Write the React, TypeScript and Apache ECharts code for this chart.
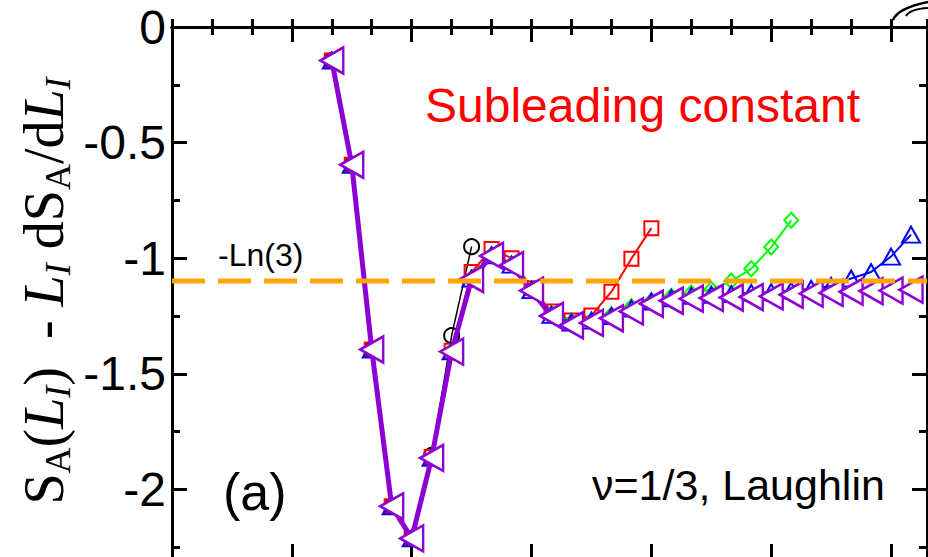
import React, { useEffect, useRef } from 'react';
import * as echarts from 'echarts';

// ---- data (x = L1 index, y = S_A(L1) - L1 dS_A/dL1) ----
const xBlack = [8, 9, 10, 11, 12, 13, 14, 15];
const yBlack = [-0.145, -0.596, -1.395, -2.073, -2.212, -1.853, -1.335, -0.95];

const xRed = [8, 9, 10, 11, 12, 13, 14, 15, 16, 17, 18, 19, 20, 21, 22, 23, 24];
const yRed = [-0.145, -0.596, -1.395, -2.073, -2.212, -1.86, -1.4, -1.06, -0.96, -1.0, -1.13, -1.23, -1.27, -1.248, -1.145, -1.002, -0.87];

const xGreen = [8, 9, 10, 11, 12, 13, 14, 15, 16, 17, 18, 19, 20, 21, 22, 23, 24, 25, 26, 27, 28, 29, 30, 31];
const yGreen = [-0.145, -0.596, -1.395, -2.073, -2.212, -1.862, -1.402, -1.085, -0.985, -1.025, -1.135, -1.24, -1.275, -1.27, -1.245, -1.21, -1.185, -1.165, -1.15, -1.135, -1.099, -1.046, -0.952, -0.836];

const xBlue = [8, 9, 10, 11, 12, 13, 14, 15, 16, 17, 18, 19, 20, 21, 22, 23, 24, 25, 26, 27, 28, 29, 30, 31, 32, 33, 34, 35, 36, 37];
const yBlue = [-0.145, -0.596, -1.395, -2.073, -2.212, -1.863, -1.403, -1.088, -0.988, -1.028, -1.138, -1.245, -1.278, -1.27, -1.25, -1.218, -1.187, -1.173, -1.163, -1.158, -1.155, -1.15, -1.147, -1.14, -1.133, -1.12, -1.088, -1.06, -0.993, -0.898];

const xPurple = [8, 9, 10, 11, 12, 13, 14, 15, 16, 17, 18, 19, 20, 21, 22, 23, 24, 25, 26, 27, 28, 29, 30, 31, 32, 33, 34, 35, 36, 37];
const yPurple = [-0.145, -0.596, -1.395, -2.073, -2.212, -1.864, -1.404, -1.09, -0.99, -1.03, -1.14, -1.25, -1.29, -1.28, -1.26, -1.23, -1.197, -1.184, -1.175, -1.172, -1.17, -1.168, -1.165, -1.158, -1.153, -1.15, -1.145, -1.142, -1.14, -1.136];

const yTickLabels = ['0', '-0.5', '-1', '-1.5', '-2'];

const LN3 = -Math.log(3);
const X_MIN = 0;
const X_MAX = 37.8;
const Y_MIN = -2.5;
const Y_MAX = 0;

const pairs = (xs: number[], ys: number[]) => xs.map((x, i) => [x, ys[i]]);

const SANS = 'Liberation Sans, Arial, sans-serif';
const SERIF = 'Liberation Serif, Times New Roman, serif';

export default function App() {
  const ref = useRef<HTMLDivElement>(null);
  useEffect(() => {
    const chart = echarts.init(ref.current!, null, { renderer: 'svg' });
    const axisLine = { show: true, lineStyle: { color: '#000', width: 3 } };
    const majorTick = { show: true, inside: true, length: 15, lineStyle: { color: '#000', width: 3 } };
    const minorTickX = { show: true, inside: true, length: 8, lineStyle: { color: '#000', width: 3 } };
    const xBase = {
      type: 'value',
      min: X_MIN,
      max: X_MAX,
      axisLabel: { show: false },
      splitLine: { show: false },
      axisLine,
    };
    const yBase = {
      type: 'value',
      min: Y_MIN,
      max: Y_MAX,
      interval: 0.5,
      splitLine: { show: false },
      axisLine,
      axisTick: majorTick,
      minorTick: { show: true, splitNumber: 2, length: 8, lineStyle: { color: '#000', width: 3 } },
      minorSplitLine: { show: false },
    };
    const hiddenY = { type: 'value', min: Y_MIN, max: Y_MAX, show: false };
    const gridShort = { left: 172, top: 27, width: 755, height: 532, containLabel: false, outerBoundsMode: 'none' };
    const option: any = {
      animation: false,
      backgroundColor: '#fff',
      grid: [
        { left: 172, top: 27, width: 755, height: 578, containLabel: false, outerBoundsMode: 'none' },
        { ...gridShort },
        { ...gridShort },
      ],
      xAxis: [
        { ...xBase, gridIndex: 0, position: 'top', interval: 6, axisTick: majorTick },
        { ...xBase, gridIndex: 1, position: 'top', interval: 2, axisTick: minorTickX },
        { ...xBase, gridIndex: 1, position: 'bottom', interval: 6, axisTick: majorTick },
        { ...xBase, gridIndex: 2, position: 'bottom', interval: 2, axisTick: minorTickX },
      ],
      yAxis: [
        {
          ...yBase,
          gridIndex: 0,
          position: 'left',
          axisLabel: {
            show: true,
            margin: 6,
            fontSize: 48,
            fontFamily: SANS,
            color: '#000',
            formatter: (v: number) => {
              const idx = Math.round(-v / 0.5);
              return idx >= 0 && idx < yTickLabels.length ? yTickLabels[idx] : '';
            },
          },
        },
        { ...yBase, gridIndex: 0, position: 'right', axisLabel: { show: false } },
        { ...hiddenY, gridIndex: 1 },
        { ...hiddenY, gridIndex: 2 },
      ],
      series: [
        {
          type: 'line',
          data: pairs(xBlack, yBlack),
          symbol: 'circle',
          symbolSize: 15,
          lineStyle: { color: '#000', width: 1.5 },
          itemStyle: { color: 'transparent', borderColor: '#000', borderWidth: 2 },
          z: 2,
        },
        {
          type: 'line',
          data: pairs(xRed, yRed),
          symbol: 'rect',
          symbolSize: 14,
          lineStyle: { color: '#ff0000', width: 2 },
          itemStyle: { color: 'transparent', borderColor: '#ff0000', borderWidth: 2 },
          z: 3,
        },
        {
          type: 'line',
          data: pairs(xGreen, yGreen),
          symbol: 'diamond',
          symbolSize: [14, 15],
          lineStyle: { color: '#00ff00', width: 2 },
          itemStyle: { color: 'transparent', borderColor: '#00ff00', borderWidth: 2 },
          z: 4,
        },
        {
          type: 'line',
          data: pairs(xBlue, yBlue),
          symbol: 'triangle',
          symbolSize: [18, 16],
          lineStyle: { color: '#0000ff', width: 2 },
          itemStyle: { color: 'transparent', borderColor: '#0000ff', borderWidth: 2 },
          z: 5,
        },
        {
          type: 'line',
          data: pairs(xPurple, yPurple),
          symbol: 'triangle',
          symbolRotate: 90,
          symbolSize: [26, 23],
          lineStyle: { color: '#8c00d4', width: 5 },
          itemStyle: { color: '#ffffff', borderColor: '#8c00d4', borderWidth: 2.5 },
          z: 6,
        },
        {
          type: 'line',
          data: [[X_MIN, LN3], [X_MAX, LN3]],
          symbol: 'none',
          lineStyle: { color: '#ffa500', width: 5, type: [33, 13] },
          z: 10,
          silent: true,
        },
      ],
      graphic: [
        {
          type: 'text',
          x: 425,
          y: 105,
          style: {
            text: 'Subleading constant',
            fontSize: 48,
            fontFamily: SANS,
            fill: '#ff0000',
            align: 'left',
            verticalAlign: 'middle',
          },
        },
        {
          type: 'text',
          x: 218,
          y: 255,
          style: {
            text: '-Ln(3)',
            fontSize: 32,
            fontFamily: SANS,
            fill: '#000',
            align: 'left',
            verticalAlign: 'middle',
          },
        },
        {
          type: 'text',
          x: 223,
          y: 492,
          style: {
            text: '(a)',
            fontSize: 52,
            fontFamily: SANS,
            fill: '#000',
            align: 'left',
            verticalAlign: 'middle',
          },
        },
        {
          type: 'text',
          x: 592,
          y: 485,
          style: {
            text: 'ν=1/3, Laughlin',
            fontSize: 43,
            fontFamily: SANS,
            fill: '#000',
            align: 'left',
            verticalAlign: 'middle',
          },
        },
        {
          type: 'text',
          x: 44,
          y: 291,
          rotation: Math.PI / 2,
          style: {
            text: '{m|S}{s|A}{m|(}{i|L}{si|I}{m|)  - }{i|L}{si|I}{m| dS}{s|A}{m|/d}{i|L}{si|I}',
            align: 'center',
            verticalAlign: 'middle',
            fill: '#000',
            rich: {
              m: { fontFamily: SERIF, fontSize: 56, lineHeight: 64, fill: '#000' },
              i: { fontFamily: SERIF, fontSize: 56, lineHeight: 64, fontStyle: 'italic', fill: '#000' },
              s: { fontFamily: SERIF, fontSize: 36, lineHeight: 24, verticalAlign: 'bottom', fill: '#000' },
              si: { fontFamily: SERIF, fontSize: 36, lineHeight: 24, verticalAlign: 'bottom', fontStyle: 'italic', fill: '#000' },
            },
          },
        },
        {
          type: 'bezierCurve',
          shape: { x1: 893, y1: 20, cpx1: 898, cpy1: 8, x2: 928, y2: 2 },
          style: { stroke: '#000', lineWidth: 2.5, fill: 'none' },
        },
        {
          type: 'bezierCurve',
          shape: { x1: 906, y1: 16, cpx1: 910, cpy1: 9, x2: 928, y2: 8 },
          style: { stroke: '#000', lineWidth: 2, fill: 'none' },
        },
      ],
    };
    chart.setOption(option);
    return () => chart.dispose();
  }, []);
  return (
    <div
      style={{
        position: 'fixed',
        left: 0,
        top: 0,
        width: 928,
        height: 557,
        overflow: 'hidden',
        background: '#fff',
      }}
    >
      <div ref={ref} style={{ width: 928, height: 620 }} />
    </div>
  );
}
